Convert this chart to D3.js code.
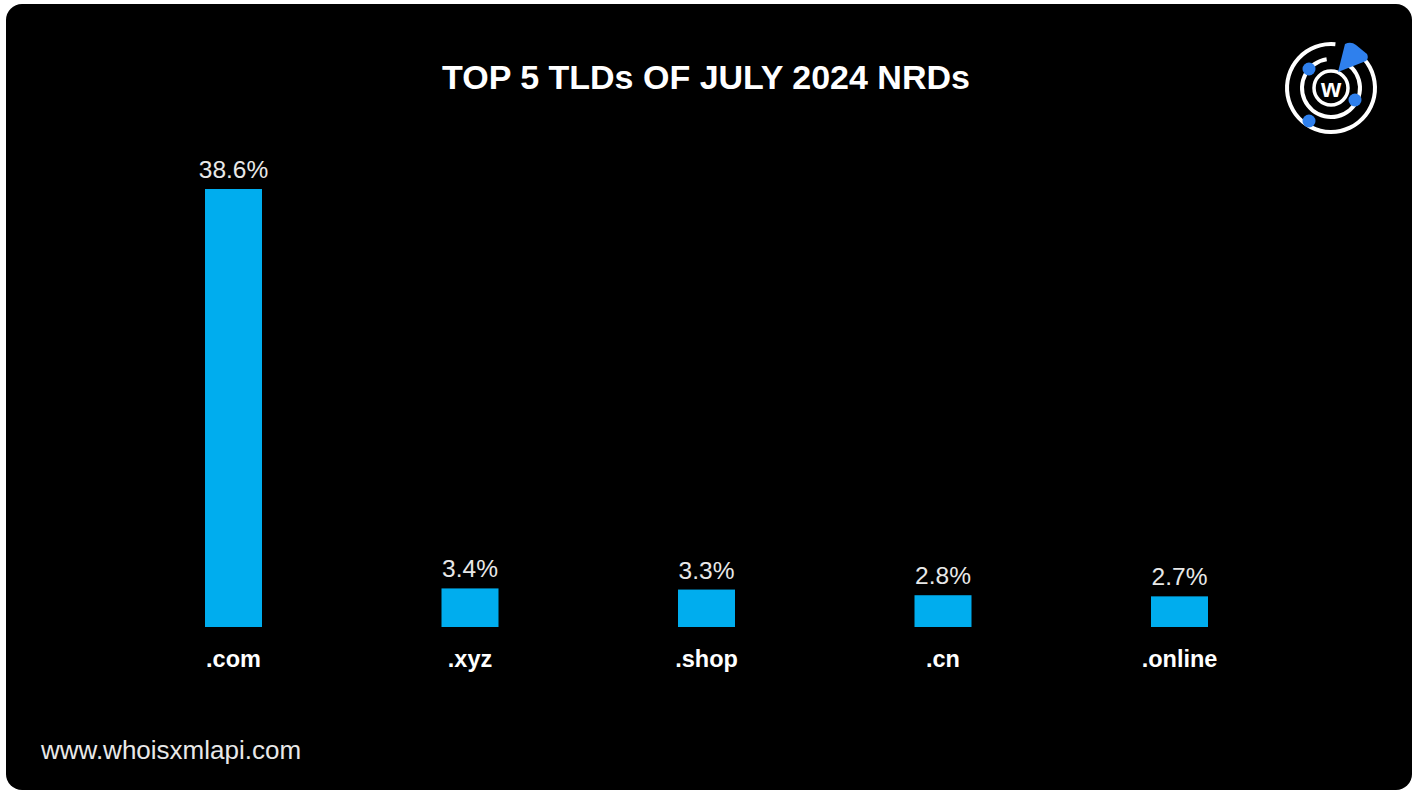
<!DOCTYPE html>
<html>
<head>
<meta charset="utf-8">
<script src="https://cdn.jsdelivr.net/npm/d3@7"></script>
<style>
html,body{margin:0;padding:0;background:#fff;}
svg{display:block;}
</style>
</head>
<body>
<svg id="chart" width="1417" height="791"></svg>
<script>
const categories = [".com", ".xyz", ".shop", ".cn", ".online"];
const values = [38.6, 3.4, 3.3, 2.8, 2.7];
const valueLabels = ["38.6%", "3.4%", "3.3%", "2.8%", "2.7%"];
const title = "TOP 5 TLDs OF JULY 2024 NRDs";
const footer = "www.whoisxmlapi.com";

const svg = d3.select("#chart");
const font = "'Liberation Sans', Arial, Helvetica, sans-serif";

svg.append("rect").attr("x", 6).attr("y", 4).attr("width", 1406).attr("height", 786)
  .attr("rx", 16).attr("fill", "#000");

const x = d3.scaleBand().domain(categories)
  .range([115.25, 1297.75]).paddingInner(0.759).paddingOuter(0.3795);
const y = d3.scaleLinear().domain([0, 38.6]).range([627, 189]);

svg.append("text").attr("x", 706).attr("y", 89).attr("text-anchor", "middle")
  .attr("fill", "#fff").attr("font-family", font).attr("font-weight", "bold")
  .attr("font-size", 34).text(title);

const g = svg.append("g");
g.selectAll("rect.bar").data(values).join("rect").attr("class", "bar")
  .attr("x", (d, i) => x(categories[i]))
  .attr("width", x.bandwidth())
  .attr("y", d => y(d))
  .attr("height", d => y(0) - y(d))
  .attr("fill", "#00adee");

g.selectAll("text.val").data(values).join("text").attr("class", "val")
  .attr("x", (d, i) => x(categories[i]) + x.bandwidth() / 2)
  .attr("y", d => y(d) - 11)
  .attr("text-anchor", "middle").attr("fill", "#e8e8e8")
  .attr("font-family", font).attr("font-size", 24.5)
  .text((d, i) => valueLabels[i]);

const xAxis = d3.axisBottom(x).tickSize(0).tickPadding(0);
const ax = svg.append("g").attr("transform", "translate(0,650)").call(xAxis);
ax.select(".domain").remove();
ax.selectAll("text").attr("fill", "#fff").attr("font-family", font)
  .attr("font-weight", "bold").attr("font-size", 23.5).attr("dy", "0.71em");

svg.append("text").attr("x", 41).attr("y", 759).attr("fill", "#e8e8e8")
  .attr("font-family", font).attr("font-size", 26).text(footer);

// logo
const logo = svg.append("g").attr("transform", "translate(1331,88)");
const arc = d3.arc();
logo.append("path").attr("d", arc({innerRadius: 42, outerRadius: 46, startAngle: 0.85, endAngle: 2 * Math.PI + 0.1}))
  .attr("fill", "#fff");
logo.append("path").attr("d", arc({innerRadius: 27, outerRadius: 31, startAngle: 0.6, endAngle: 2 * Math.PI - 0.15}))
  .attr("fill", "#fff");
logo.append("circle").attr("r", 17).attr("fill", "none").attr("stroke", "#fff").attr("stroke-width", 3.5);
logo.append("text").attr("x", 0).attr("y", 8.5).attr("text-anchor", "middle")
  .attr("fill", "#fff").attr("font-family", font).attr("font-weight", "bold").attr("font-size", 26).text("w");
logo.append("path").attr("d", "M7,-16 L14,-44 Q20,-47 25,-43 L36,-34 Q38,-30 35,-27 Z").attr("fill", "#2f80ed");
[[-22, -19], [24, 12], [-22, 33]].forEach(p => {
  logo.append("circle").attr("cx", p[0]).attr("cy", p[1]).attr("r", 6.5).attr("fill", "#2f80ed");
});
</script>
</body>
</html>
